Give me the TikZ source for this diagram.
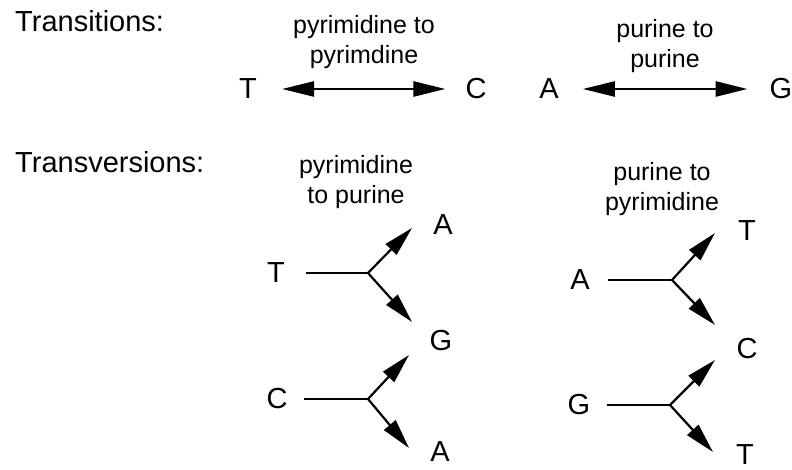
\documentclass[tikz,border=0pt]{standalone}
\usepackage{fontspec}
\setmainfont{Liberation Sans}
\usetikzlibrary{arrows.meta,calc}

\begin{document}
\begin{tikzpicture}[x=1pt,y=-1pt,
  base/.style={inner sep=0pt,font=\fontsize{29}{29}\selectfont},
  sub/.style={inner sep=0pt,align=center,anchor=north,font=\fontsize{25}{30}\selectfont},
  dbl/.style={line width=2.6pt,{Triangle[length=32pt,width=15pt]}-{Triangle[length=32pt,width=15pt]}},
  fork/.style={line width=2.2pt},
  tip/.style={line width=2.2pt,-{Triangle[length=30pt,width=15pt]}}]
  \useasboundingbox[fill=white] (0,0) rectangle (792,470);

  % headings
  \node[base,anchor=base west] (hts) at (15,32) {Transitions:};
  \node[base,anchor=base west] (htv) at (15,173) {Transversions:};

  % transitions
  \node[sub] (pp) at (364,15) {pyrimidine to\\pyrimdine};
  \node[sub] (uu) at (665,19) {purine to\\purine};
  \node[base] (t1) at (248,89) {T};
  \node[base] (c1) at (476,89) {C};
  \node[base] (a1) at (549,89) {A};
  \node[base] (g1) at (781,89) {G};
  \draw[dbl,shorten <=25pt,shorten >=20pt] (t1) -- (c1);
  \draw[dbl,shorten <=24pt,shorten >=22pt] (a1) -- (g1);

  % transversions, pyrimidine to purine
  \node[sub] (yu) at (356,155) {pyrimidine\\to purine};
  \node[base] (t2) at (276,273) {T};
  \coordinate (j1) at (368,273);
  \coordinate (e1) at (412,228);
  \coordinate (e2) at (412,322);
  \node[base] (a2) at (443,225) {A};
  \node[base] (g2) at (441,341) {G};
  \draw[fork,shorten <=21pt] (t2) -- (j1);
  \draw[tip] (j1) -- (e1);
  \draw[tip] (j1) -- (e2);

  \node[base] (c2) at (277,399) {C};
  \coordinate (j2) at (368,399);
  \coordinate (e3) at (409,355);
  \coordinate (e4) at (409,448);
  \node[base] (a3) at (440,452) {A};
  \draw[fork,shorten <=16pt] (c2) -- (j2);
  \draw[tip] (j2) -- (e3);
  \draw[tip] (j2) -- (e4);

  % transversions, purine to pyrimidine
  \node[sub] (uy) at (662,162) {purine to\\pyrimidine};
  \node[base] (a4) at (580,280) {A};
  \coordinate (j3) at (672,280);
  \coordinate (e5) at (715,233);
  \coordinate (e6) at (715,325);
  \node[base] (t4) at (747,231) {T};
  \node[base] (c4) at (747,349) {C};
  \draw[fork,shorten <=18pt] (a4) -- (j3);
  \draw[tip] (j3) -- (e5);
  \draw[tip] (j3) -- (e6);

  \node[base] (g5) at (579,405) {G};
  \coordinate (j4) at (670,405);
  \coordinate (e7) at (715,360);
  \coordinate (e8) at (713,452);
  \node[base] (t5) at (745,455) {T};
  \draw[fork,line width=2.8pt,shorten <=17pt] (g5) -- (j4);
  \draw[tip] (j4) -- (e7);
  \draw[tip] (j4) -- (e8);
\end{tikzpicture}
\end{document}
